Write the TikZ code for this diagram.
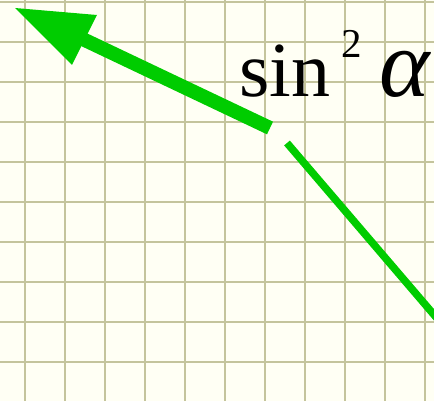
\documentclass[tikz,border=0pt]{standalone}
\usepackage{fontspec}
\setmainfont{Liberation Serif}
\definecolor{paper}{RGB}{255,255,244}
\definecolor{gridc}{RGB}{196,196,156}
\definecolor{arrowgreen}{RGB}{0,204,0}
\tikzset{
  gridline/.style={draw=gridc, line width=2.4pt},
  shaft/.style={draw=arrowgreen, line width=14pt},
  thinline/.style={draw=arrowgreen, line width=7.5pt},
  headfill/.style={fill=arrowgreen},
  label/.style={inner sep=0pt, anchor=base west, font=\fontsize{78}{80}\selectfont}
}
\begin{document}
\begin{tikzpicture}[x=1pt,y=-1pt]
\useasboundingbox (0,0) rectangle (434,401);
\fill[paper] (0,0) rectangle (434,401);
\foreach \x in {25,65,...,425} \draw[gridline] (\x,0) -- (\x,401);
\foreach \y in {2,42,...,362} \draw[gridline] (0,\y) -- (434,\y);
% thick arrow
\coordinate (shaftstart) at (270,128);
\coordinate (headbase) at (70,33);
\coordinate (tip) at (15,8);
\coordinate (wingA) at (97,15);
\coordinate (wingB) at (72,65);
\draw[shaft] (shaftstart) -- (headbase);
\fill[headfill] (tip) -- (wingA) -- (wingB) -- cycle;
% thin line
\coordinate (linestart) at (287,143);
\coordinate (lineend) at (447,330);
\draw[thinline] (linestart) -- (lineend);
% label
\node[label] (lbl) at (239,97) {sin\kern11pt\raisebox{39pt}{\fontsize{41}{41}\selectfont 2}\kern18pt{\fontsize{96}{96}\selectfont\itshape α}};
\end{tikzpicture}
\end{document}
